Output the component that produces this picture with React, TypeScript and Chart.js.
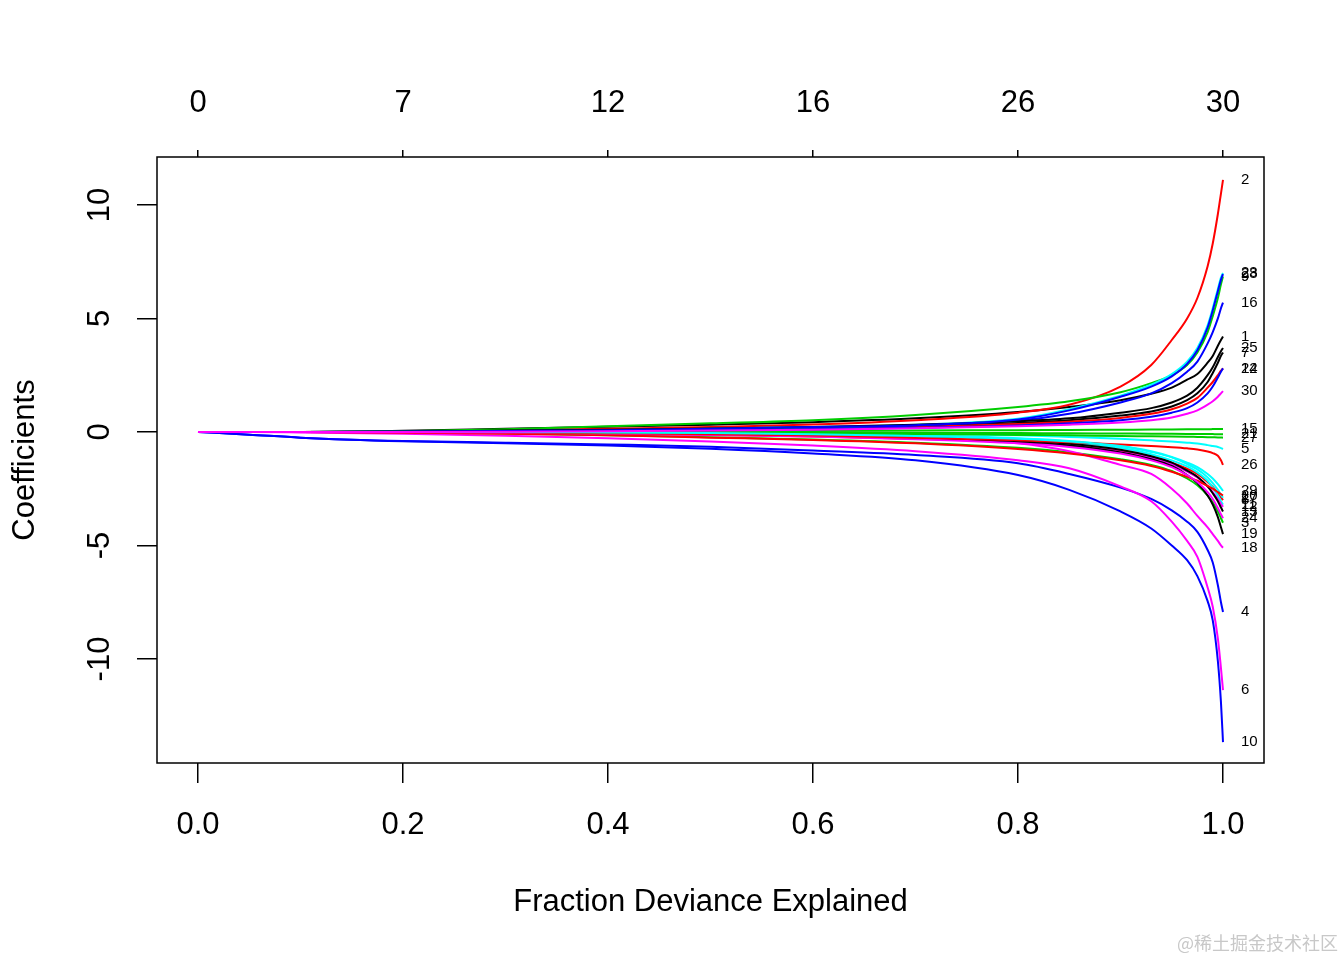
import React, { useEffect, useRef } from "react";
import { Chart, registerables } from "chart.js";

Chart.register(...registerables);

// fraction of deviance explained (x positions of the path steps)
const xFrac = [0, 0.05, 0.1, 0.2, 0.3, 0.4, 0.5, 0.6, 0.7, 0.8, 0.85,
  0.9, 0.93, 0.95, 0.965, 0.975, 0.985, 0.99, 0.995, 0.998, 1.0];
// bottom ticks and top (degrees of freedom) labels
const fracTicks = [0, 0.2, 0.4, 0.6, 0.8, 1.0];
const dfLabels = ["0", "7", "12", "16", "26", "30"];
const yTicks = [-10, -5, 0, 5, 10];
const varIds = Array.from({ length: 30 }, (_, i) => i + 1);
const rPalette = ["#000000", "#FF0000", "#00CD00", "#0000FF", "#00FFFF", "#FF00FF"];

// coefficient paths, one per variable
const c1 = [0, 0, 0, 0.05, 0.14, 0.23, 0.32, 0.43, 0.6, 0.88, 1.1, 1.4, 1.68, 1.95, 2.3, 2.55, 3.05, 3.35, 3.8, 4.05, 4.2];
const c2 = [0, 0, 0, 0.02, 0.07, 0.14, 0.22, 0.33, 0.52, 0.85, 1.2, 2.0, 2.95, 4.05, 5.0, 5.9, 7.3, 8.3, 9.6, 10.5, 11.1];
const c3 = [0, 0, 0, -0.02, -0.07, -0.14, -0.23, -0.33, -0.47, -0.7, -0.9, -1.2, -1.45, -1.72, -2.05, -2.35, -2.8, -3.1, -3.5, -3.8, -4.0];
const c4 = [0, -0.12, -0.25, -0.4, -0.47, -0.55, -0.65, -0.82, -1.02, -1.38, -1.85, -2.45, -2.95, -3.45, -3.95, -4.4, -5.2, -5.75, -6.75, -7.5, -7.93];
const c5 = [0, 0, 0, 0, 0, -0.01, -0.03, -0.05, -0.09, -0.15, -0.22, -0.3, -0.37, -0.42, -0.47, -0.51, -0.58, -0.62, -0.66, -0.71, -0.75];
const c6 = [0, 0, -0.02, -0.08, -0.17, -0.28, -0.42, -0.6, -0.85, -1.25, -1.6, -2.4, -3.05, -3.95, -4.8, -5.5, -6.85, -7.7, -9.1, -10.4, -11.37];
const c7 = [0, 0, 0, 0.01, 0.04, 0.08, 0.12, 0.18, 0.25, 0.4, 0.52, 0.72, 0.9, 1.12, 1.4, 1.7, 2.2, 2.6, 3.05, 3.35, 3.5];
const c8 = [0, 0, 0, -0.01, -0.04, -0.08, -0.13, -0.2, -0.3, -0.45, -0.6, -0.85, -1.1, -1.35, -1.62, -1.85, -2.2, -2.42, -2.7, -2.88, -3.0];
const c9 = [0, 0, 0, 0.03, 0.12, 0.25, 0.38, 0.52, 0.75, 1.1, 1.35, 1.75, 2.15, 2.5, 2.95, 3.5, 4.4, 5.1, 5.9, 6.5, 6.85];
const c10 = [0, -0.12, -0.25, -0.41, -0.5, -0.6, -0.74, -0.95, -1.25, -1.9, -2.55, -3.5, -4.25, -5.0, -5.65, -6.35, -7.45, -8.3, -10.1, -11.9, -13.66];
const c11 = [0, 0, 0, 0, 0, -0.02, -0.05, -0.1, -0.18, -0.32, -0.45, -0.7, -0.98, -1.25, -1.52, -1.78, -2.15, -2.45, -2.8, -3.05, -3.2];
const c12 = [0, 0, 0, 0, -0.02, -0.05, -0.1, -0.17, -0.28, -0.45, -0.6, -0.88, -1.15, -1.42, -1.75, -2.0, -2.4, -2.65, -2.95, -3.17, -3.3];
const c13 = [0, 0, 0, 0, 0, -0.03, -0.07, -0.13, -0.22, -0.38, -0.52, -0.78, -1.07, -1.35, -1.7, -1.97, -2.4, -2.7, -3.05, -3.33, -3.5];
const c14 = [0, 0, 0, 0, 0.01, 0.04, 0.08, 0.13, 0.22, 0.35, 0.45, 0.62, 0.8, 1.0, 1.25, 1.5, 1.95, 2.2, 2.5, 2.7, 2.8];
const c15 = [0, 0, 0, 0, 0, 0.01, 0.02, 0.04, 0.06, 0.08, 0.09, 0.1, 0.105, 0.11, 0.115, 0.12, 0.12, 0.125, 0.13, 0.13, 0.13];
const c16 = [0, 0, 0, 0.01, 0.04, 0.08, 0.13, 0.2, 0.3, 0.5, 0.8, 1.3, 1.7, 2.15, 2.65, 3.1, 3.9, 4.4, 5.0, 5.45, 5.7];
const c17 = [0, 0, 0, 0, 0, 0, -0.04, -0.08, -0.15, -0.28, -0.4, -0.62, -0.88, -1.12, -1.42, -1.65, -2.0, -2.25, -2.55, -2.77, -2.9];
const c18 = [0, 0, 0, 0, -0.01, -0.03, -0.07, -0.13, -0.25, -0.5, -0.85, -1.45, -1.85, -2.5, -3.15, -3.7, -4.2, -4.5, -4.8, -5.0, -5.1];
const c19 = [0, 0, 0, 0, -0.01, -0.04, -0.08, -0.15, -0.26, -0.45, -0.6, -0.9, -1.2, -1.5, -1.9, -2.25, -2.8, -3.2, -3.75, -4.2, -4.5];
const c20 = [0, 0, 0, -0.02, -0.08, -0.15, -0.25, -0.35, -0.5, -0.75, -0.95, -1.25, -1.5, -1.75, -1.98, -2.15, -2.38, -2.5, -2.65, -2.74, -2.8];
const c21 = [0, 0, 0, 0, 0, 0, -0.01, -0.02, -0.03, -0.05, -0.06, -0.07, -0.075, -0.08, -0.085, -0.09, -0.09, -0.095, -0.1, -0.1, -0.1];
const c22 = [0, 0, 0, 0, 0.02, 0.05, 0.08, 0.12, 0.18, 0.28, 0.38, 0.52, 0.67, 0.85, 1.05, 1.3, 1.7, 2.0, 2.4, 2.65, 2.8];
const c23 = [0, 0, 0, 0.01, 0.04, 0.08, 0.14, 0.22, 0.32, 0.58, 1.0, 1.6, 2.08, 2.55, 3.1, 3.7, 4.7, 5.45, 6.3, 6.8, 7.0];
const c24 = [0, 0, 0, 0, -0.03, -0.07, -0.13, -0.2, -0.32, -0.5, -0.66, -0.95, -1.25, -1.55, -1.9, -2.2, -2.65, -2.95, -3.35, -3.62, -3.8];
const c25 = [0, 0, 0, 0.02, 0.06, 0.1, 0.15, 0.22, 0.32, 0.47, 0.6, 0.85, 1.05, 1.3, 1.6, 1.95, 2.5, 2.85, 3.3, 3.55, 3.7];
const c26 = [0, 0, 0, 0, -0.02, -0.06, -0.1, -0.16, -0.25, -0.37, -0.45, -0.55, -0.62, -0.67, -0.72, -0.77, -0.86, -0.93, -1.05, -1.25, -1.45];
const c27 = [0, 0, 0, 0, 0, -0.01, -0.03, -0.06, -0.09, -0.13, -0.15, -0.18, -0.19, -0.2, -0.21, -0.22, -0.23, -0.235, -0.24, -0.245, -0.25];
const c28 = [0, 0, 0, 0.01, 0.04, 0.08, 0.14, 0.22, 0.3, 0.55, 0.95, 1.55, 2.0, 2.45, 3.0, 3.6, 4.6, 5.35, 6.2, 6.7, 6.95];
const c29 = [0, 0, 0, 0, 0, -0.02, -0.05, -0.1, -0.18, -0.3, -0.42, -0.62, -0.85, -1.1, -1.35, -1.55, -1.85, -2.05, -2.3, -2.47, -2.6];
const c30 = [0, 0, 0, 0, 0.01, 0.03, 0.06, 0.1, 0.16, 0.25, 0.32, 0.42, 0.52, 0.64, 0.8, 0.95, 1.2, 1.35, 1.55, 1.7, 1.8];

const coefSeries = [c1, c2, c3, c4, c5, c6, c7, c8, c9, c10, c11, c12, c13, c14, c15,
  c16, c17, c18, c19, c20, c21, c22, c23, c24, c25, c26, c27, c28, c29, c30];

const FONT = '"Liberation Sans", Arial, Helvetica, sans-serif';

export default function App() {
  const ref = useRef<HTMLCanvasElement>(null);

  useEffect(() => {
    document.body.style.margin = "0";
    const canvas = ref.current;
    if (!canvas) return;

    const datasets = coefSeries
      .map((vals, i) => ({
        label: String(varIds[i]),
        data: xFrac.map((x, j) => ({ x, y: vals[j] })),
        borderColor: rPalette[i % 6],
        backgroundColor: rPalette[i % 6],
        borderWidth: 2,
        pointRadius: 0,
        fill: false,
        cubicInterpolationMode: "monotone" as const,
      }))
      .reverse();

    const boxPlugin = {
      id: "rbox",
      afterDraw(chart: any) {
        const { ctx, chartArea: a, scales } = chart;
        ctx.save();
        ctx.strokeStyle = "#000";
        ctx.lineWidth = 1.5;
        ctx.strokeRect(a.left, a.top, a.right - a.left, a.bottom - a.top);

        const ys = scales.y;
        const xs = scales.x;
        ctx.fillStyle = "#000";
        ctx.font = `31px ${FONT}`;
        ctx.textAlign = "center";
        ctx.textBaseline = "middle";
        yTicks.forEach((v) => {
          const py = ys.getPixelForValue(v);
          ctx.save();
          ctx.translate(100, py);
          ctx.rotate(-Math.PI / 2);
          ctx.fillText(String(v), 0, 0);
          ctx.restore();
        });

        ctx.font = `15px ${FONT}`;
        ctx.textAlign = "left";
        const lx = xs.getPixelForValue(1) + 18;
        coefSeries.forEach((vals, i) => {
          ctx.fillText(String(varIds[i]), lx, ys.getPixelForValue(vals[vals.length - 1]));
        });

        ctx.font = `18px "Noto Sans CJK SC", sans-serif`;
        ctx.fillStyle = "#c8c8c8";
        ctx.textAlign = "right";
        ctx.fillText("@稀土掘金技术社区", 1338, 943);
        ctx.restore();
      },
    };

    const chart = new Chart(canvas, {
      type: "line",
      data: { datasets },
      plugins: [boxPlugin],
      options: {
        animation: false,
        responsive: false,
        maintainAspectRatio: false,
        devicePixelRatio: 1,
        events: [],
        layout: { padding: { left: 0, top: 0, right: 80, bottom: 0 } },
        plugins: { legend: { display: false }, tooltip: { enabled: false } },
        scales: {
          x: {
            type: "linear",
            position: "bottom",
            min: -0.04,
            max: 1.04,
            afterBuildTicks: (axis: any) => {
              axis.ticks = fracTicks.map((v) => ({ value: v }));
            },
            afterFit: (axis: any) => {
              axis.height = 197;
            },
            ticks: {
              autoSkip: false,
              maxRotation: 0,
              minRotation: 0,
              padding: 24,
              color: "#000",
              font: { size: 31, family: FONT },
              callback: (v: any) => Number(v).toFixed(1),
            },
            grid: { drawOnChartArea: false, drawTicks: true, tickLength: 20, color: "#000", lineWidth: 1.5 },
            border: { display: false },
            title: {
              display: true,
              text: "Fraction Deviance Explained",
              color: "#000",
              font: { size: 31, family: FONT },
              padding: { top: 0, bottom: 39 },
            },
          },
          x2: {
            type: "linear",
            position: "top",
            min: -0.04,
            max: 1.04,
            afterBuildTicks: (axis: any) => {
              axis.ticks = fracTicks.map((v) => ({ value: v }));
            },
            afterFit: (axis: any) => {
              axis.height = 157;
            },
            ticks: {
              autoSkip: false,
              maxRotation: 0,
              minRotation: 0,
              padding: 28,
              color: "#000",
              font: { size: 31, family: FONT },
              callback: (_v: any, i: number) => dfLabels[i],
            },
            grid: { drawOnChartArea: false, drawTicks: true, tickLength: 7, color: "#000", lineWidth: 1.5 },
            border: { display: false },
          },
          y: {
            type: "linear",
            position: "left",
            min: -14.58,
            max: 12.11,
            afterBuildTicks: (axis: any) => {
              axis.ticks = yTicks.map((v) => ({ value: v }));
            },
            afterFit: (axis: any) => {
              axis.width = 157;
            },
            ticks: { display: false },
            grid: { drawOnChartArea: false, drawTicks: true, tickLength: 20, color: "#000", lineWidth: 1.5 },
            border: { display: false },
            title: {
              display: true,
              text: "Coefficients",
              color: "#000",
              font: { size: 31, family: FONT },
              padding: { top: 7, bottom: 0 },
            },
          },
        },
      },
    } as any);

    return () => chart.destroy();
  }, []);

  return (
    <div style={{ position: "absolute", left: 0, top: 0, width: 1344, height: 960, background: "#fff" }}>
      <canvas ref={ref} width={1344} height={960} style={{ display: "block" }} />
    </div>
  );
}
